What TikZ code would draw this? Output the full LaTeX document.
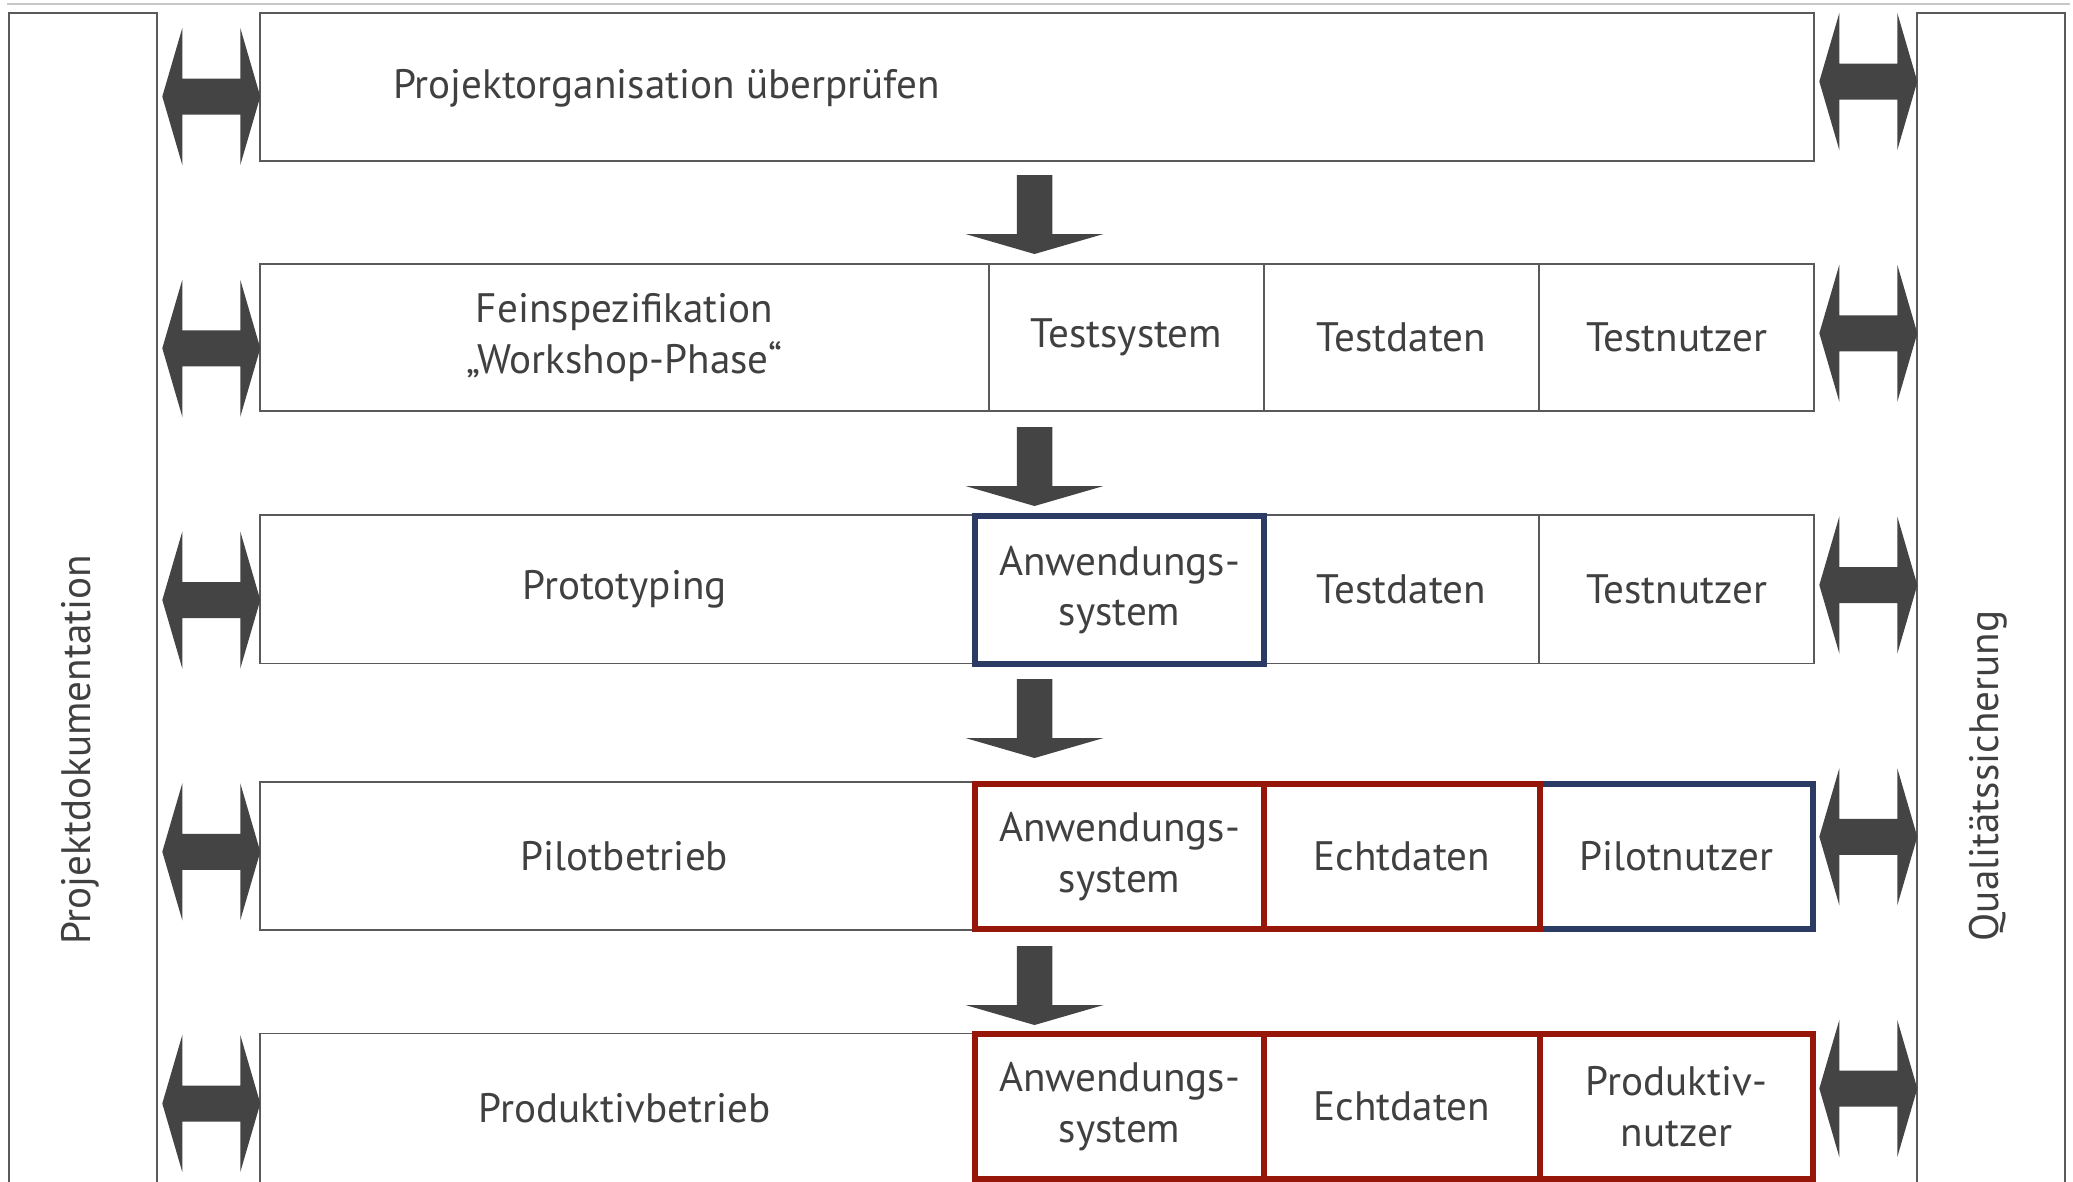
\documentclass[tikz,border=0pt]{standalone}
\usepackage{fontspec}
\setmainfont{PT Sans}

\definecolor{txt}{HTML}{404040}
\definecolor{rule}{HTML}{5A5A5A}
\definecolor{toprule}{HTML}{C8C8C8}
\definecolor{arrowfill}{HTML}{444444}
\definecolor{hlblue}{RGB}{44,59,99}
\definecolor{hlred}{RGB}{150,22,10}

% a box spanning the corners (x1,y1)-(x2,y2), text centred in it
% #1 style, #2 name, #3 x1, #4 y1, #5 x2, #6 y2, #7 text
\newcommand\boxcell[7]{%
  \node[#1, minimum width={(#5-#3)*0.01cm}, minimum height={(#6-#4)*0.01cm}]
    (#2) at ({(#3+#5)/2},{(#4+#6)/2}) {#7};}

% horizontal double block arrow, argument = left tip
\newcommand\dblarrow[1]{%
  \fill[arrowfill] (#1) -- ++(20,-68.5) -- ++(0,50.5) -- ++(58,0) -- ++(0,-50.5)
    -- ++(20,68.5) -- ++(-20,68.5) -- ++(0,-50.5) -- ++(-58,0) -- ++(0,50.5) -- cycle;}
% downward block arrow, argument = top centre of the shaft
\newcommand\flowdown[1]{%
  \fill[arrowfill] (#1) ++(-17.75,0) -- ++(35.5,0) -- ++(0,59) -- ++(51.25,0)
    -- ++(-69,20) -- ++(-69,-20) -- ++(51.25,0) -- cycle;}

\begin{document}
\begin{tikzpicture}[x=0.01cm,y=-0.01cm,
  every node/.style={font=\fontsize{11.7pt}{14.4pt}\selectfont, text=txt,
    align=center, inner sep=0pt, outer sep=0pt},
  cell/.style={draw=rule, line width=0.4pt, rectangle},
  markblue/.style={draw=hlblue, fill=white, line width=1.7pt, rectangle},
  markred/.style={draw=hlred, fill=white, line width=1.7pt, rectangle},
  side/.style={draw=rule, line width=0.4pt}]

\path[use as bounding box, clip] (0,0) rectangle (2073,1181);
\fill[white] (0,0) rectangle (2073,1181);

% thin rule along the top
\draw[toprule, line width=0.6pt] (7,4) -- (2070,4);

% side columns
\draw[side] (9,1190) |- (157,13) -- (157,1190);
\draw[side] (1917,1190) |- (2065,13) -- (2065,1190);
\node[rotate=90] (tL) at (80,750) {Projektdokumentation};
\node[rotate=90] (tR) at (1988,776) {Qualitätssicherung};

% row 1
\boxcell{cell}{r1}{260}{13}{1814}{161}{}
\node[anchor=west] (t1) at (393,88) {Projektorganisation überprüfen};

% row 2
\boxcell{cell}{r2a}{260}{264}{989}{411}{Feinspezifikation\\„Workshop-Phase“}
\boxcell{cell}{r2b}{989}{264}{1264}{411}{Testsystem}
\boxcell{cell}{r2c}{1264}{264}{1539}{411}{Testdaten}
\boxcell{cell}{r2d}{1539}{264}{1814}{411}{Testnutzer}

% row 3
\boxcell{cell}{r3a}{260}{515}{989}{663.5}{Prototyping}
\boxcell{cell}{r3c}{1264}{515}{1539}{663.5}{Testdaten}
\boxcell{cell}{r3d}{1539}{515}{1814}{663.5}{Testnutzer}
\boxcell{markblue}{r3b}{975}{516}{1264}{664}{Anwendungs-\\system}

% row 4
\boxcell{cell}{r4a}{260}{782}{989}{930}{Pilotbetrieb}
\boxcell{markblue}{r4d}{1540}{784}{1813}{929}{Pilotnutzer}
\boxcell{markred}{r4b}{975}{784}{1264}{929}{Anwendungs-\\system}
\boxcell{markred}{r4c}{1264}{784}{1540}{929}{Echtdaten}

% row 5
\boxcell{cell}{r5a}{260}{1033.5}{989}{1183}{Produktivbetrieb}
\boxcell{markred}{r5b}{975}{1034}{1264}{1179}{Anwendungs-\\system}
\boxcell{markred}{r5d}{1540}{1034}{1813}{1179}{Produktiv-\\nutzer}
\boxcell{markred}{r5c}{1264}{1034}{1540}{1179}{Echtdaten}

% flow between the phases
\coordinate (d1) at (1034.5,175);
\coordinate (d2) at (1034.5,427);
\coordinate (d3) at (1034.5,679);
\coordinate (d4) at (1034.5,946);
\flowdown{d1}
\flowdown{d2}
\flowdown{d3}
\flowdown{d4}

% exchange with documentation (left) and quality assurance (right)
\foreach \yc [count=\i] in {96.5,348.25,600,851.75,1103.5}{
  \coordinate (L\i) at (162.3,\yc);
}
\foreach \yc [count=\i] in {81.5,333.25,585,836.75,1088.5}{
  \coordinate (R\i) at (1819.3,\yc);
}
\dblarrow{L1}\dblarrow{L2}\dblarrow{L3}\dblarrow{L4}\dblarrow{L5}
\dblarrow{R1}\dblarrow{R2}\dblarrow{R3}\dblarrow{R4}\dblarrow{R5}
\end{tikzpicture}
\end{document}
